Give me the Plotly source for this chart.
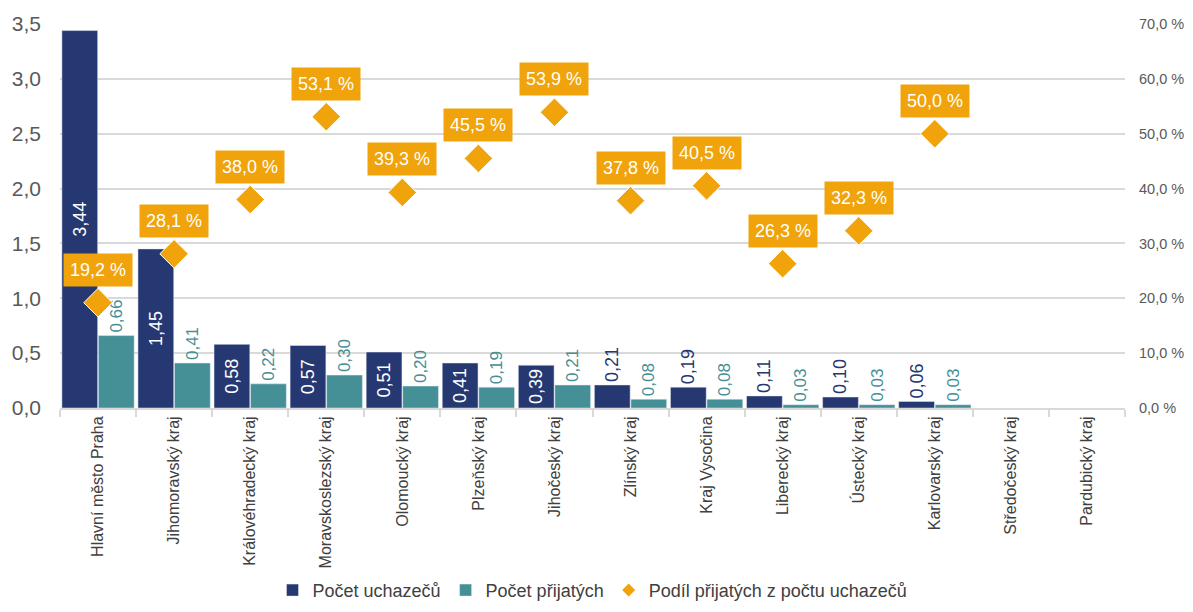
import plotly.graph_objects as go

categories = ["Hlavní město Praha", "Jihomoravský kraj", "Královéhradecký kraj",
              "Moravskoslezský kraj", "Olomoucký kraj", "Plzeňský kraj", "Jihočeský kraj",
              "Zlínský kraj", "Kraj Vysočina", "Liberecký kraj", "Ústecký kraj",
              "Karlovarský kraj", "Středočeský kraj", "Pardubický kraj"]
uchazeci = [3.44, 1.45, 0.58, 0.57, 0.51, 0.41, 0.39, 0.21, 0.19, 0.11, 0.10, 0.06, None, None]
prijati = [0.66, 0.41, 0.22, 0.30, 0.20, 0.19, 0.21, 0.08, 0.08, 0.03, 0.03, 0.03, None, None]
podil = [19.2, 28.1, 38.0, 53.1, 39.3, 45.5, 53.9, 37.8, 40.5, 26.3, 32.3, 50.0, None, None]

NAVY = "#253872"
TEAL = "#458F96"
ORANGE = "#F0A30A"
GRID = "#D9D9D9"
TXT = "#595959"
FONT = "Liberation Sans, Arial, sans-serif"

blue_pos = ["inside" if (v is not None and v >= 0.3) else "outside" for v in uchazeci]

fig = go.Figure()
fig.add_trace(go.Bar(
    x=categories, y=uchazeci, name="Počet uchazečů", marker_color=NAVY,
    texttemplate="%{y:.2f}", textposition=blue_pos, textangle=-90,
    insidetextanchor="middle",
    insidetextfont=dict(color="white", size=18, family=FONT),
    outsidetextfont=dict(color=NAVY, size=18, family=FONT),
    cliponaxis=False,
))
fig.add_trace(go.Bar(
    x=categories, y=prijati, name="Počet přijatých", marker_color=TEAL,
    texttemplate="%{y:.2f}", textposition="outside", textangle=-90,
    outsidetextfont=dict(color=TEAL, size=17, family=FONT),
    cliponaxis=False,
))
fig.add_trace(go.Scatter(
    x=categories, y=podil, name="Podíl přijatých z počtu uchazečů", yaxis="y2",
    mode="markers", showlegend=False,
    marker=dict(symbol="diamond", size=22, color=ORANGE, line=dict(color="white", width=1)),
    cliponaxis=False,
))
# legend entry with small diamond
fig.add_trace(go.Scatter(
    x=[None], y=[None], name="Podíl přijatých z počtu uchazečů", yaxis="y2",
    mode="markers", marker=dict(symbol="diamond", size=10, color=ORANGE),
))

for c, v in zip(categories, podil):
    if v is None:
        continue
    fig.add_annotation(
        x=c, y=v, yref="y2", xref="x",
        text=f"{v:.1f} %".replace(".", ","),
        showarrow=False, yshift=33,
        bgcolor=ORANGE, borderpad=6,
        font=dict(color="white", size=18, family=FONT),
    )

fig.update_layout(
    width=1177, height=596,
    margin=dict(l=52, r=60, t=16, b=196, autoexpand=False),
    paper_bgcolor="white", plot_bgcolor="white",
    separators=", ",
    barmode="group", bargap=0.04, bargroupgap=0.02,
    font=dict(family=FONT, color=TXT),
    showlegend=True,
    legend=dict(orientation="h", x=0.5, xanchor="center", y=-0.475, yanchor="middle",
                bgcolor="rgba(0,0,0,0)",
                font=dict(size=18, color="#404040", family=FONT),
                itemwidth=30, tracegroupgap=0),
    xaxis=dict(
        automargin=False, range=[-0.5, 13.5],
        tickangle=-90, tickfont=dict(size=16, color="#404040"),
        showline=True, linecolor=GRID, linewidth=2,
        ticks="outside", tickson="boundaries", ticklen=7, tickcolor=GRID, tickwidth=2,
        showgrid=False,
    ),
    yaxis=dict(
        automargin=False,
        range=[0, 3.5], dtick=0.5, tickformat=".1f",
        tickfont=dict(size=21, color=TXT),
        showgrid=True, gridcolor=GRID, gridwidth=2,
        zeroline=False, ticks="", ticklabelstandoff=18,
    ),
    yaxis2=dict(
        automargin=False,
        range=[0, 70], dtick=10, tickformat=".1f", ticksuffix=" %",
        overlaying="y", side="right",
        tickfont=dict(size=14.5, color=TXT),
        showgrid=False, zeroline=False, ticklabelstandoff=13,
    ),
)

fig.write_html("out.html")
